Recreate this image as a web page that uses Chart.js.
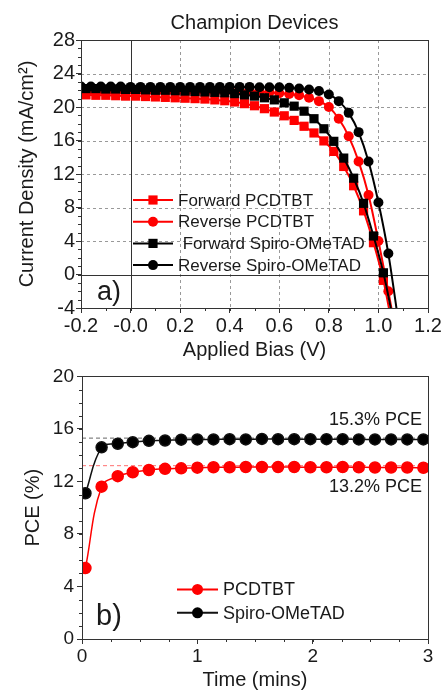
<!DOCTYPE html>
<html>
<head>
<meta charset="utf-8">
<script src="https://cdn.jsdelivr.net/npm/chart.js"></script>
<style>
  body { margin: 0; background: #fff; width: 445px; height: 692px; position: relative; overflow: hidden; }
  canvas { position: absolute; left: 0; }
  #jv { top: 0; }
  #pce { top: 362px; }
</style>
</head>
<body>
<canvas id="jv" width="445" height="362"></canvas>
<canvas id="pce" width="445" height="330"></canvas>
<script>
// --- a) J-V curves (V, mA/cm2) ---
const voltsRev = [-0.2, -0.16, -0.12, -0.08, -0.04, 0.0, 0.04, 0.08, 0.12, 0.16, 0.2, 0.24, 0.28, 0.32, 0.36, 0.4,
  0.44, 0.48, 0.52, 0.56, 0.6, 0.64, 0.68, 0.72, 0.76, 0.8, 0.84, 0.88, 0.92, 0.96, 1.0, 1.04, 1.08];
const voltsFwd = [-0.18, -0.14, -0.1, -0.06, -0.02, 0.02, 0.06, 0.1, 0.14, 0.18, 0.22, 0.26, 0.3, 0.34, 0.38, 0.42,
  0.46, 0.5, 0.54, 0.58, 0.62, 0.66, 0.7, 0.74, 0.78, 0.82, 0.86, 0.9, 0.94, 0.98, 1.02, 1.06];

const fwdPcdtbt = [21.45, 21.4, 21.4, 21.35, 21.3, 21.3, 21.25, 21.2, 21.15, 21.1, 21.05, 21.0, 20.95, 20.85, 20.75, 20.6,
  20.4, 20.15, 19.8, 19.4, 18.95, 18.4, 17.7, 16.9, 15.95, 14.7, 12.9, 10.6, 7.6, 3.8, -0.7, -6.8];
const revPcdtbt = [22.1, 22.1, 22.1, 22.1, 22.1, 22.1, 22.1, 22.1, 22.1, 22.1, 22.1, 22.1, 22.1, 22.05, 22.05, 22.05,
  22.0, 21.95, 21.85, 21.75, 21.65, 21.55, 21.4, 21.1, 20.7, 20.0, 18.6, 16.5, 13.5, 9.5, 4.0, -2.0, -8.5];
const fwdSpiro = [22.2, 22.2, 22.15, 22.15, 22.1, 22.1, 22.05, 22.0, 22.0, 21.95, 21.9, 21.85, 21.8, 21.75, 21.7, 21.6,
  21.45, 21.3, 21.1, 20.85, 20.5, 20.1, 19.5, 18.6, 17.4, 15.9, 13.9, 11.5, 8.5, 4.6, 0.2, -5.5];
const revSpiro = [22.45, 22.45, 22.45, 22.45, 22.45, 22.4, 22.4, 22.4, 22.4, 22.4, 22.4, 22.4, 22.4, 22.4, 22.4, 22.4,
  22.4, 22.4, 22.35, 22.35, 22.35, 22.3, 22.2, 22.1, 21.9, 21.5, 20.7, 19.3, 17.0, 13.5, 8.6, 2.5, -5.5];

const jvLabels = ['Forward PCDTBT', 'Reverse PCDTBT', ' Forward Spiro-OMeTAD', 'Reverse Spiro-OMeTAD'];

// --- b) stabilised PCE vs time ---
const timeMins = [0.03, 0.17, 0.31, 0.44, 0.58, 0.72, 0.86, 1.0, 1.14, 1.28, 1.42, 1.56, 1.7, 1.84, 1.98, 2.12,
  2.26, 2.4, 2.54, 2.68, 2.82, 2.96];
const pcePcdtbt = [5.4, 11.6, 12.4, 12.7, 12.87, 12.96, 13.0, 13.05, 13.08, 13.08, 13.1, 13.1, 13.1, 13.1, 13.08, 13.08,
  13.1, 13.08, 13.06, 13.06, 13.06, 13.04];
const pceSpiro = [11.1, 14.6, 14.87, 14.99, 15.09, 15.12, 15.18, 15.2, 15.2, 15.22, 15.2, 15.24, 15.22, 15.22, 15.22, 15.22,
  15.22, 15.2, 15.2, 15.2, 15.2, 15.2];
const pceLabels = ['PCDTBT', 'Spiro-OMeTAD'];
const stableSpan = [0, 3];
const stablePce = [13.2, 15.3];
const stableNotes = ['13.2% PCE', '15.3% PCE'];

const FONT = "'Liberation Sans', Arial, sans-serif";
const RED = '#ff0000';
const BLACK = '#000000';
Chart.defaults.font.family = FONT;
Chart.defaults.color = '#1a1a1a';
Chart.defaults.animation = false;

const pts = (xs, ys) => ys.map((y, i) => ({ x: xs[i], y: y }));

function marker(ctx, style, x, y, r, color) {
  ctx.fillStyle = color;
  ctx.beginPath();
  if (style === 'rect') {
    const s = r * Math.SQRT1_2;
    ctx.rect(x - s, y - s, 2 * s, 2 * s);
  } else {
    ctx.arc(x, y, r, 0, Math.PI * 2);
  }
  ctx.fill();
}

// frame, minor ticks, zero lines, legend and notes
const extras = {
  id: 'extras',
  beforeDatasetsDraw(chart, args, o) {
    const { ctx, chartArea: a, scales: { x, y } } = chart;
    ctx.save();
    if (o.dotted) {
      // dotted grid at the major ticks
      ctx.strokeStyle = '#999999';
      ctx.lineWidth = 1;
      ctx.setLineDash([3, 3]);
      ctx.beginPath();
      x.ticks.forEach(t => {
        const px = Math.round(x.getPixelForValue(t.value)) + 0.5;
        ctx.moveTo(px, a.top); ctx.lineTo(px, a.bottom);
      });
      y.ticks.forEach(t => {
        const py = Math.round(y.getPixelForValue(t.value)) + 0.5;
        ctx.moveTo(a.left, py); ctx.lineTo(a.right, py);
      });
      ctx.stroke();
      ctx.setLineDash([]);
    }
    if (o.zeroLines) {
      ctx.strokeStyle = '#333';
      ctx.lineWidth = 1;
      const px = Math.round(x.getPixelForValue(0)) + 0.5;
      const py = Math.round(y.getPixelForValue(0)) + 0.5;
      ctx.beginPath();
      ctx.moveTo(px, a.top); ctx.lineTo(px, a.bottom);
      ctx.moveTo(a.left, py); ctx.lineTo(a.right, py);
      ctx.stroke();
    }
    ctx.restore();
  },
  afterDraw(chart, args, o) {
    const { ctx, chartArea: a, scales: { x, y } } = chart;
    ctx.save();
    ctx.strokeStyle = '#333';
    ctx.lineWidth = 1;
    ctx.strokeRect(Math.round(a.left) + 0.5, Math.round(a.top) + 0.5,
      Math.round(a.right - a.left), Math.round(a.bottom - a.top));

    // minor ticks, outward
    ctx.beginPath();
    const nx = Math.round((x.max - x.min) / o.minorX);
    for (let i = 0; i <= nx; i++) {
      const px = Math.round(x.getPixelForValue(x.min + i * o.minorX)) + 0.5;
      ctx.moveTo(px, a.bottom); ctx.lineTo(px, a.bottom + 3);
    }
    const ny = Math.round((y.max - y.min) / o.minorY);
    for (let i = 0; i <= ny; i++) {
      const py = Math.round(y.getPixelForValue(y.min + i * o.minorY)) + 0.5;
      ctx.moveTo(a.left, py); ctx.lineTo(a.left - 3, py);
    }
    ctx.stroke();

    ctx.fillStyle = '#1a1a1a';
    ctx.textBaseline = 'middle';
    if (o.title) {
      ctx.font = '20px ' + FONT;
      ctx.textAlign = 'center';
      ctx.fillText(o.title, (a.left + a.right) / 2, 23);
    }
    // panel letter
    ctx.font = o.panel.size + 'px ' + FONT;
    ctx.textAlign = 'left';
    ctx.textBaseline = 'alphabetic';
    ctx.fillText(o.panel.text, a.left + o.panel.dx, a.bottom - o.panel.dy);

    // notes next to reference lines
    (o.notes || []).forEach(n => {
      ctx.font = '18px ' + FONT;
      ctx.textAlign = 'right';
      ctx.textBaseline = 'middle';
      ctx.fillText(n.text, a.right - 6, y.getPixelForValue(n.value) + n.dy);
    });

    // legend
    const L = o.legend;
    ctx.font = L.size + 'px ' + FONT;
    ctx.textAlign = 'left';
    ctx.textBaseline = 'middle';
    let row = 0;
    chart.data.datasets.forEach(ds => {
      if (!ds.label) return;
      const ly = a.top + L.top + row * L.gap;
      const lx = a.left + L.left;
      ctx.strokeStyle = ds.borderColor;
      ctx.lineWidth = 2;
      ctx.beginPath();
      ctx.moveTo(lx, ly); ctx.lineTo(lx + L.len, ly);
      ctx.stroke();
      marker(ctx, ds.pointStyle, lx + L.len / 2, ly, ds.pointRadius, ds.backgroundColor);
      ctx.fillStyle = '#1a1a1a';
      ctx.fillText(ds.label, lx + L.len + 5, ly + 1);
      row++;
    });
    ctx.restore();
  }
};

function axis(opts) {
  return Object.assign({
    type: 'linear',
    grid: { drawOnChartArea: false, tickLength: 5, tickColor: '#333' },
    border: { color: '#333' }
  }, opts);
}

new Chart(document.getElementById('jv'), {
  type: 'line',
  data: {
    datasets: [
      { label: jvLabels[0], data: pts(voltsFwd, fwdPcdtbt), borderColor: RED, backgroundColor: RED,
        pointStyle: 'rect', pointRadius: 6.5, order: 4 },
      { label: jvLabels[1], data: pts(voltsRev, revPcdtbt), borderColor: RED, backgroundColor: RED,
        pointStyle: 'circle', pointRadius: 5, order: 3 },
      { label: jvLabels[2], data: pts(voltsFwd, fwdSpiro), borderColor: BLACK, backgroundColor: BLACK,
        pointStyle: 'rect', pointRadius: 6.5, order: 2 },
      { label: jvLabels[3], data: pts(voltsRev, revSpiro), borderColor: BLACK, backgroundColor: BLACK,
        pointStyle: 'circle', pointRadius: 5, order: 1 }
    ]
  },
  options: {
    responsive: false,
    layout: { padding: { top: 40, right: 17, left: 0, bottom: 0 } },
    elements: { line: { borderWidth: 2, cubicInterpolationMode: 'monotone' }, point: { borderWidth: 0 } },
    plugins: {
      legend: { display: false },
      tooltip: { enabled: false },
      extras: {
        dotted: true, zeroLines: true, minorX: 0.1, minorY: 1, title: 'Champion Devices',
        panel: { text: 'a)', size: 27, dx: 16, dy: 8 },
        legend: { top: 160, left: 52, gap: 21.7, len: 40, size: 17 }
      }
    },
    scales: {
      x: axis({
        min: -0.2, max: 1.2,
        afterFit: s => { s.height = 54; },
        ticks: { stepSize: 0.2, font: { size: 20 }, color: '#1a1a1a', padding: 1, maxRotation: 0,
          callback: v => v.toFixed(1) },
        title: { display: true, text: 'Applied Bias (V)', font: { size: 20 }, color: '#1a1a1a', padding: 0 }
      }),
      y: axis({
        min: -4, max: 28,
        afterFit: s => { s.width = 81; },
        ticks: { stepSize: 4, font: { size: 20 }, color: '#1a1a1a', padding: 1 },
        title: { display: true, text: 'Current Density (mA/cm²)', font: { size: 20 }, color: '#1a1a1a',
          padding: { top: 15, bottom: 0 } }
      })
    }
  },
  plugins: [extras]
});

new Chart(document.getElementById('pce'), {
  type: 'line',
  data: {
    datasets: [
      { data: pts(stableSpan, [stablePce[1], stablePce[1]]), borderColor: '#666', borderWidth: 1,
        borderDash: [4, 3], pointRadius: 0, order: 6 },
      { data: pts(stableSpan, [stablePce[0], stablePce[0]]), borderColor: '#ff7070', borderWidth: 1,
        borderDash: [4, 3], pointRadius: 0, order: 5 },
      { label: pceLabels[0], data: pts(timeMins, pcePcdtbt), borderColor: RED, backgroundColor: RED,
        pointStyle: 'circle', pointRadius: 5.5, borderWidth: 1.5, tension: 0.4, order: 2 },
      { label: pceLabels[1], data: pts(timeMins, pceSpiro), borderColor: '#111', backgroundColor: BLACK,
        pointStyle: 'circle', pointRadius: 5.5, borderWidth: 1.5, tension: 0.4, order: 1 }
    ]
  },
  options: {
    responsive: false,
    layout: { padding: { top: 12, right: 17, left: 0, bottom: 0 } },
    elements: { point: { borderWidth: 0 } },
    plugins: {
      legend: { display: false },
      tooltip: { enabled: false },
      extras: {
        dotted: false, zeroLines: false, minorX: 0.25, minorY: 1,
        panel: { text: 'b)', size: 29, dx: 14, dy: 14 },
        notes: [
          { text: stableNotes[1], value: stablePce[1], dy: -18 },
          { text: stableNotes[0], value: stablePce[0], dy: 21 }
        ],
        legend: { top: 213, left: 95, gap: 23.4, len: 41, size: 18 }
      }
    },
    scales: {
      x: axis({
        min: 0, max: 3,
        afterFit: s => { s.height = 53; },
        ticks: { stepSize: 1, font: { size: 19 }, color: '#1a1a1a', padding: 1, maxRotation: 0 },
        title: { display: true, text: 'Time (mins)', font: { size: 20 }, color: '#1a1a1a', padding: 0 }
      }),
      y: axis({
        min: 0, max: 20,
        afterFit: s => { s.width = 82; },
        ticks: { stepSize: 4, font: { size: 19 }, color: '#1a1a1a', padding: 3 },
        title: { display: true, text: 'PCE (%)', font: { size: 20 }, color: '#1a1a1a',
          padding: { top: 21, bottom: 0 } }
      })
    }
  },
  plugins: [extras]
});
</script>
</body>
</html>
